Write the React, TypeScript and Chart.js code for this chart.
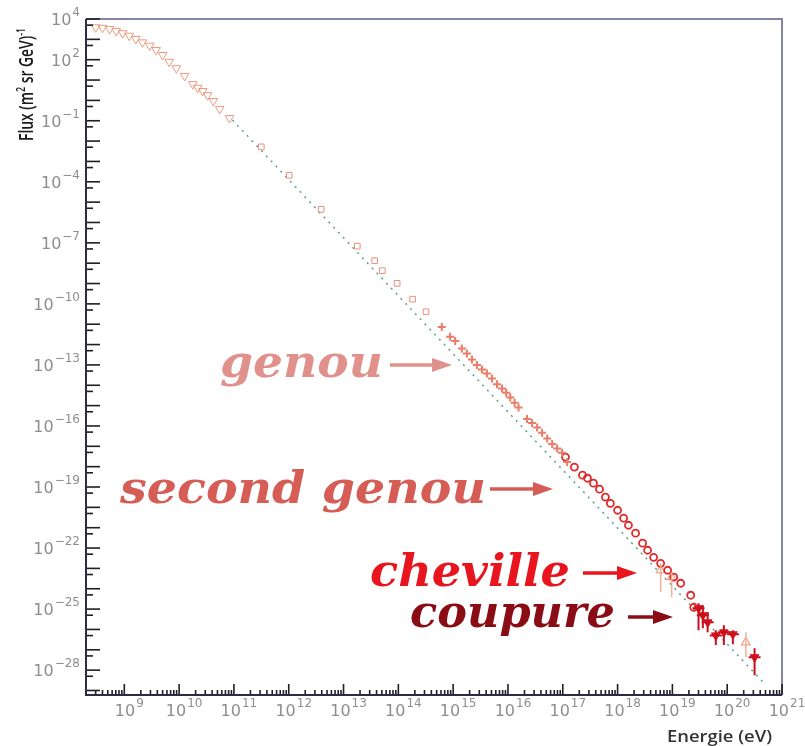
import React, { useEffect, useRef } from "react";
import { Chart, registerables } from "chart.js";

Chart.register(...registerables);

const W = 805;
const H = 746;

// ---- Data: energy in eV, flux in (m² sr GeV)^-1 ----
const lowEnergy = [3.0e8, 4.0e8, 5.4e8, 7.1e8, 9.3e8, 1.23e9, 1.62e9, 2.14e9, 2.9e9, 3.8e9, 5.0e9, 6.6e9, 8.9e9, 1.26e10, 1.78e10, 2.19e10, 2.7e10, 3.3e10, 4.2e10, 5.5e10, 8.3e10];
const lowFlux = [3.9e3, 3.7e3, 3.2e3, 2.6e3, 2.0e3, 1.5e3, 1.05e3, 7.1e2, 4.9e2, 3.0e2, 1.7e2, 79, 38, 16, 6.3, 4.2, 2.9, 1.8, 0.93, 0.38, 0.135];

const midEnergy = [3.16e11, 1.02e12, 3.9e12, 1.78e13, 3.7e13, 5.1e13, 9.5e13, 1.82e14, 3.2e14];
const midFlux = [5.2e-3, 2.1e-4, 4.4e-6, 6.9e-8, 1.32e-8, 4.3e-9, 1.02e-9, 1.7e-10, 4.1e-11];

const kneeEnergy = [6.2e14, 8.8e14, 1.09e15, 1.44e15, 1.78e15, 2.2e15, 2.71e15, 3.35e15, 4.13e15, 5.1e15, 6.3e15, 7.8e15, 9.3e15, 1.1e16, 1.32e16, 1.56e16, 2.23e16, 2.75e16, 3.4e16, 4.19e16, 5.2e16, 6.4e16, 7.9e16, 9.7e16, 1.2e17];
const kneeFlux = [7.4e-12, 2.4e-12, 1.51e-12, 6.5e-13, 3.6e-13, 1.86e-13, 9.8e-14, 6.0e-14, 3.8e-14, 2.14e-14, 1.12e-14, 6.9e-15, 4.3e-15, 2.5e-15, 1.4e-15, 8.1e-16, 2.2e-16, 1.41e-16, 8.5e-17, 4.6e-17, 2.45e-17, 1.29e-17, 7.8e-18, 4.8e-18, 1.7e-18];

const ankleEnergy = [1.12e17, 1.63e17, 2.29e17, 2.82e17, 3.63e17, 4.68e17, 6.0e17, 7.4e17, 1.0e18, 1.29e18, 1.58e18, 2.13e18, 2.86e18, 3.53e18, 4.55e18, 6.1e18, 8.2e18, 1.06e19, 1.42e19, 2.16e19, 2.45e19];
const ankleFlux = [2.95e-18, 9.5e-19, 3.8e-19, 2.7e-19, 1.55e-19, 7.8e-20, 3.2e-20, 1.58e-20, 7.2e-21, 2.95e-21, 1.32e-21, 5.4e-22, 1.74e-22, 7.8e-23, 3.5e-23, 1.78e-23, 8.1e-24, 3.7e-24, 1.86e-24, 4.8e-25, 1.23e-25];

const uheEnergy = [3.0e19, 3.6e19, 4.4e19, 6.2e19, 8.7e19, 1.27e20, 3.16e20];
const uheFlux = [1.1e-25, 5.0e-26, 2.24e-26, 5.1e-27, 7.2e-27, 5.8e-27, 4.3e-28];
const uheLow = [9.1e-27, 1.15e-26, 7.2e-27, 1.7e-27, 1.7e-27, 1.86e-27, 5.6e-29];
const uheHigh = [1.95e-25, 1.55e-25, 7.1e-26, 9.1e-27, 1.62e-26, 9.1e-27, 1.2e-27];

const otherEnergy = [6.1e18, 9.7e18, 2.19e20];
const otherFlux = [8.1e-24, 3.7e-24, 2.34e-27];
const otherLow = [6.8e-25, 3.8e-25, 4.3e-28];
const otherHigh = [1.78e-23, 6.5e-24, 7.2e-27];

const fitEnergy = [9.4e10, 4.7e20];
const fitFlux = [0.108, 2.3e-29];

const xTickExponents = [9, 10, 11, 12, 13, 14, 15, 16, 17, 18, 19, 20, 21];
const yTickExponents = [4, 2, -1, -4, -7, -10, -13, -16, -19, -22, -25, -28];

const xTitle = "Energie (eV)";

const annotations = [
  { text: "genou", color: "#e0918c", x: 220, base: 377, width: 163, ax1: 390, ax2: 452, ay: 365 },
  { text: "second genou", color: "#d65c56", x: 120, base: 503, width: 366, ax1: 490, ax2: 553, ay: 489 },
  { text: "cheville", color: "#e8141e", x: 370, base: 586, width: 200, ax1: 583, ax2: 637, ay: 573 },
  { text: "coupure", color: "#8a0c14", x: 410, base: 627, width: 205, ax1: 628, ax2: 673, ay: 617 },
];

const pts = (xs: number[], ys: number[]) => xs.map((x, i) => ({ x, y: ys[i] }));

function drawPow(ctx: CanvasRenderingContext2D, exp: number, x: number, y: number, align: "right" | "center") {
  const base = "10";
  const sup = exp < 0 ? "\u2212" + Math.abs(exp) : String(exp);
  ctx.font = '16px "DejaVu Sans"';
  const wb = ctx.measureText(base).width;
  ctx.font = '12px "DejaVu Sans"';
  const ws = ctx.measureText(sup).width;
  const total = wb + 1 + ws;
  const sx = align === "right" ? x - total : x - total / 2;
  ctx.fillStyle = "#8e8e8e";
  ctx.textAlign = "left";
  ctx.textBaseline = "middle";
  ctx.font = '16px "DejaVu Sans"';
  ctx.fillText(base, sx, y);
  ctx.font = '12px "DejaVu Sans"';
  ctx.fillText(sup, sx + wb + 1, y - 8);
}

const errorBarPlugin = {
  id: "errorBars",
  afterDatasetsDraw(chart: any) {
    const { ctx } = chart;
    const xs = chart.scales.x;
    const ys = chart.scales.y;
    chart.data.datasets.forEach((ds: any) => {
      if (!ds.errLow) return;
      ctx.save();
      ctx.strokeStyle = ds.errColor;
      ctx.lineWidth = ds.errWidth;
      ds.data.forEach((p: any, i: number) => {
        const px = xs.getPixelForValue(p.x);
        const y1 = ys.getPixelForValue(ds.errLow[i]);
        const y2 = ys.getPixelForValue(ds.errHigh[i]);
        ctx.beginPath();
        ctx.moveTo(px, y1);
        ctx.lineTo(px, y2);
        if (ds.errCap) {
          const py = ys.getPixelForValue(p.y);
          ctx.moveTo(px - ds.errCap, py);
          ctx.lineTo(px + ds.errCap, py);
        }
        ctx.stroke();
      });
      ctx.restore();
    });
  },
};

const framePlugin = {
  id: "rootFrame",
  afterDraw(chart: any) {
    const { ctx, chartArea: a } = chart;
    const xs = chart.scales.x;
    const ys = chart.scales.y;
    ctx.save();
    // frame (top & right)
    ctx.strokeStyle = "#5c5c88";
    ctx.lineWidth = 1.5;
    ctx.beginPath();
    ctx.moveTo(a.left, a.top);
    ctx.lineTo(a.right, a.top);
    ctx.lineTo(a.right, a.bottom);
    ctx.stroke();
    // x ticks
    ctx.strokeStyle = "#1e1e24";
    ctx.lineWidth = 1.6;
    for (let e = 8; e <= 21; e++) {
      for (let m = 1; m <= 9; m++) {
        const v = m * Math.pow(10, e);
        if (v <= xs.min * 1.0001 || v > xs.max * 1.0001) continue;
        const px = xs.getPixelForValue(v);
        const len = m === 1 ? 11 : 5;
        ctx.beginPath();
        ctx.moveTo(px, a.bottom);
        ctx.lineTo(px, a.bottom - len);
        ctx.stroke();
      }
    }
    // y ticks
    for (let e = -30; e <= 4; e++) {
      const vals = [Math.pow(10, e), 5 * Math.pow(10, e - 1)];
      vals.forEach((v, k) => {
        if (v < ys.min || v > ys.max * 1.0001) return;
        const py = ys.getPixelForValue(v);
        ctx.beginPath();
        ctx.moveTo(a.left, py);
        ctx.lineTo(a.left + (k === 0 ? 14 : 7), py);
        ctx.stroke();
      });
    }
    // axes lines (left & bottom)
    ctx.strokeStyle = "#2c2c46";
    ctx.lineWidth = 2;
    ctx.beginPath();
    ctx.moveTo(a.left, a.top);
    ctx.lineTo(a.left, a.bottom);
    ctx.lineTo(a.right, a.bottom);
    ctx.stroke();
    // tick labels
    xTickExponents.forEach((e) => {
      const px = xs.getPixelForValue(Math.pow(10, e));
      drawPow(ctx, e, px + 5, 712, "center");
    });
    yTickExponents.forEach((e) => {
      const py = ys.getPixelForValue(Math.pow(10, e));
      drawPow(ctx, e, 80, py + 2, "right");
    });
    // x title
    ctx.fillStyle = "#333333";
    ctx.font = '600 16px "Open Sans"';
    const tw = ctx.measureText(xTitle).width;
    ctx.save();
    ctx.translate(667, 737);
    ctx.scale(105 / tw, 1);
    ctx.textAlign = "left";
    ctx.textBaseline = "middle";
    ctx.fillText(xTitle, 0, 0);
    ctx.restore();
    // y title (rotated, manual superscripts)
    const parts: [string, boolean][] = [["Flux (m", false], ["2", true], [" sr GeV)", false], ["-1", true]];
    const mainFont = '600 19px "Open Sans"';
    const supFont = '600 12px "Open Sans"';
    let total = 0;
    parts.forEach(([t, s]) => {
      ctx.font = s ? supFont : mainFont;
      total += ctx.measureText(t).width;
    });
    ctx.save();
    ctx.translate(28, 141);
    ctx.rotate(-Math.PI / 2);
    ctx.scale(113 / total, 1);
    ctx.fillStyle = "#1a1a1a";
    ctx.textAlign = "left";
    ctx.textBaseline = "middle";
    let cx = 0;
    parts.forEach(([t, s]) => {
      ctx.font = s ? supFont : mainFont;
      ctx.fillText(t, cx, s ? -6 : 0);
      cx += ctx.measureText(t).width;
    });
    ctx.restore();
    // annotations
    annotations.forEach((an) => {
      ctx.font = 'italic bold 44px "DejaVu Serif"';
      const w = ctx.measureText(an.text).width;
      ctx.save();
      ctx.fillStyle = an.color;
      ctx.translate(an.x, an.base);
      ctx.scale(an.width / w, 1);
      ctx.textAlign = "left";
      ctx.textBaseline = "alphabetic";
      ctx.fillText(an.text, 0, 0);
      ctx.restore();
      ctx.strokeStyle = an.color;
      ctx.fillStyle = an.color;
      ctx.lineWidth = 3.5;
      ctx.beginPath();
      ctx.moveTo(an.ax1, an.ay);
      ctx.lineTo(an.ax2 - 16, an.ay);
      ctx.stroke();
      ctx.beginPath();
      ctx.moveTo(an.ax2, an.ay);
      ctx.lineTo(an.ax2 - 20, an.ay - 7);
      ctx.lineTo(an.ax2 - 20, an.ay + 7);
      ctx.closePath();
      ctx.fill();
    });
    ctx.restore();
  },
};

export default function App() {
  const ref = useRef<HTMLCanvasElement | null>(null);
  useEffect(() => {
    if (!ref.current) return;
    const chart = new Chart(ref.current, {
      type: "scatter",
      data: {
        datasets: [
          {
            label: "low",
            data: pts(lowEnergy, lowFlux),
            pointStyle: "triangle",
            rotation: 180,
            pointRadius: 5,
            borderWidth: 1,
            borderColor: "#ec9a80",
            backgroundColor: "rgba(255,255,255,0)",
          },
          {
            label: "mid",
            data: pts(midEnergy, midFlux),
            pointStyle: "rect",
            pointRadius: 4,
            borderWidth: 1,
            borderColor: "#e8907a",
            backgroundColor: "rgba(255,255,255,0)",
          },
          {
            label: "knee",
            data: pts(kneeEnergy, kneeFlux),
            pointStyle: "cross",
            pointRadius: 4,
            borderWidth: 2,
            borderColor: "#ea7c68",
            backgroundColor: "#ea7c68",
          },
          {
            label: "ankle",
            data: pts(ankleEnergy, ankleFlux),
            pointStyle: "circle",
            pointRadius: 3.5,
            borderWidth: 1.8,
            borderColor: "#e02a2a",
            backgroundColor: "rgba(255,255,255,0)",
          },
          {
            label: "uhe",
            data: pts(uheEnergy, uheFlux),
            pointStyle: "triangle",
            rotation: 180,
            pointRadius: 5,
            borderWidth: 1,
            borderColor: "#e0101c",
            backgroundColor: "#e0101c",
            errLow: uheLow,
            errHigh: uheHigh,
            errColor: "#c8101c",
            errWidth: 2,
            errCap: 6,
          } as any,
          {
            label: "other",
            data: pts(otherEnergy, otherFlux),
            pointStyle: "triangle",
            pointRadius: 5,
            borderWidth: 1.2,
            borderColor: "#f0a080",
            backgroundColor: "rgba(255,255,255,0)",
            errLow: otherLow,
            errHigh: otherHigh,
            errColor: "#f2b098",
            errWidth: 1.5,
            errCap: 0,
          } as any,
          {
            label: "fit",
            data: pts(fitEnergy, fitFlux),
            showLine: true,
            pointRadius: 0,
            borderColor: "#5e9e8c",
            borderWidth: 1.5,
            borderDash: [2, 5],
            order: 10,
          } as any,
        ],
      },
      options: {
        responsive: false,
        animation: false,
        devicePixelRatio: 1,
        layout: { padding: { top: 19, right: 23, left: 0, bottom: 0 } },
        plugins: { legend: { display: false }, tooltip: { enabled: false } },
        scales: {
          x: {
            type: "logarithmic",
            min: 2e8,
            max: 1e21,
            grid: { display: false },
            border: { display: false },
            ticks: { display: false },
            afterFit: (s: any) => {
              s.height = 51;
            },
          },
          y: {
            type: "logarithmic",
            min: 6e-30,
            max: 1e4,
            grid: { display: false },
            border: { display: false },
            ticks: { display: false },
            afterFit: (s: any) => {
              s.width = 86;
            },
          },
        },
      },
      plugins: [errorBarPlugin, framePlugin],
    });
    return () => chart.destroy();
  }, []);
  return (
    <div style={{ position: "absolute", left: 0, top: 0, width: W, height: H, background: "#fff" }}>
      <canvas ref={ref} width={W} height={H} style={{ display: "block", width: W, height: H }} />
    </div>
  );
}
